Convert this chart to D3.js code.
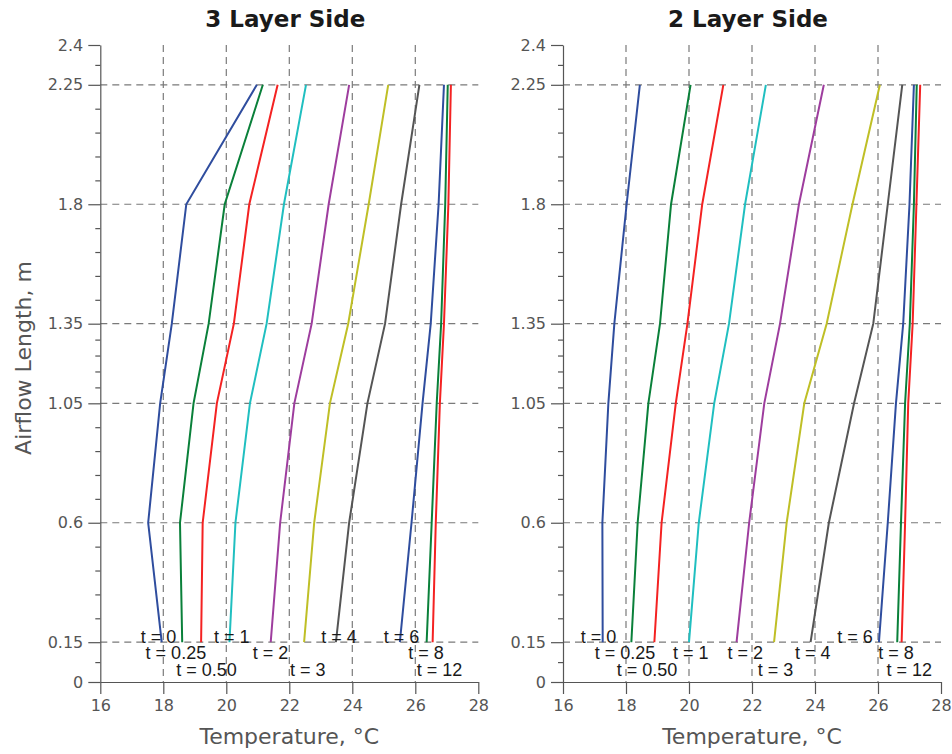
<!DOCTYPE html>
<html>
<head>
<meta charset="UTF-8">
<title>Airflow temperature profiles</title>
<script src="https://cdn.jsdelivr.net/npm/d3@7"></script>
<style>
body { margin: 0; background: #fff; }
svg { display: block; }
</style>
</head>
<body>
<script>
// airflow positions (m) where temperatures were taken
var levels = [0.15, 0.6, 1.05, 1.35, 1.8, 2.25];
var timeLabels = ["t = 0", "t = 0.25", "t = 0.50", "t = 1", "t = 2", "t = 3", "t = 4", "t = 6", "t = 8", "t = 12"];
var colors = ["#2f4d9e", "#0a803a", "#f42222", "#20bfc0", "#9e3d9e", "#bfbf26", "#555555", "#2f4d9e", "#0a803a", "#f42222"];

// temperature (°C) at each level, one row per time
var temps3Layer = [
  [17.95, 17.52, 17.90, 18.27, 18.73, 20.97],
  [18.60, 18.53, 18.96, 19.44, 19.95, 21.16],
  [19.20, 19.25, 19.70, 20.24, 20.73, 21.63],
  [20.10, 20.29, 20.75, 21.28, 21.83, 22.53],
  [21.41, 21.71, 22.16, 22.71, 23.25, 23.90],
  [22.47, 22.79, 23.29, 23.87, 24.52, 25.14],
  [23.48, 23.90, 24.48, 25.04, 25.55, 26.13],
  [25.51, 25.88, 26.23, 26.49, 26.74, 26.91],
  [26.36, 26.52, 26.68, 26.82, 26.95, 27.03],
  [26.55, 26.65, 26.78, 26.91, 27.05, 27.13]
];
var temps2Layer = [
  [17.26, 17.25, 17.44, 17.63, 18.02, 18.44],
  [18.17, 18.37, 18.71, 19.08, 19.43, 20.05],
  [18.90, 19.13, 19.58, 19.95, 20.42, 21.09],
  [20.00, 20.31, 20.80, 21.27, 21.78, 22.44],
  [21.51, 21.91, 22.39, 22.89, 23.49, 24.28],
  [22.70, 23.10, 23.66, 24.37, 25.19, 26.06],
  [23.86, 24.44, 25.24, 25.85, 26.31, 26.77],
  [26.03, 26.31, 26.57, 26.80, 27.00, 27.14],
  [26.61, 26.73, 26.86, 27.01, 27.14, 27.23],
  [26.75, 26.86, 26.96, 27.10, 27.22, 27.34]
];

// where the "t = ..." tags sit (°C) and which text row
var labelX3Layer = [17.85, 18.40, 19.37, 20.17, 21.40, 22.59, 23.58, 25.56, 26.34, 26.77];
var labelRow3Layer = [0, 1, 2, 0, 1, 2, 0, 0, 1, 2];
var labelX2Layer = [17.13, 17.97, 18.67, 20.06, 21.79, 22.75, 23.93, 25.27, 26.57, 26.99];
var labelRow2Layer = [0, 1, 2, 1, 1, 2, 1, 0, 1, 2];

var xTicks = [16, 18, 20, 22, 24, 26, 28];
var yTicks = [0, 0.15, 0.6, 1.05, 1.35, 1.8, 2.25, 2.4];

var axisFont = "DejaVu Sans";
var tagFont = "Liberation Sans, Arial, sans-serif";
var rowOffset = [1, 17, 34];

var svg = d3.select("body").append("svg")
  .attr("width", 952)
  .attr("height", 754)
  .style("background", "white");

var y = d3.scaleLinear().domain([0, 2.4]).range([682, 45]);

// minor ticks split each major interval
var minorTicks = [];
d3.pairs(yTicks).forEach(function(p) {
  var n = (p[1] - p[0]) < 0.2 ? 2 : 5;
  for (var k = 1; k < n; k++) minorTicks.push(p[0] + (p[1] - p[0]) * k / n);
});

function panel(x0, x1, title, temps, labelX, labelRow, yLabel) {
  var x = d3.scaleLinear().domain([16, 28]).range([x0, x1]);
  var g = svg.append("g");

  // dashed grid
  g.append("g").selectAll("line")
    .data(xTicks.slice(1, -1)).join("line")
    .attr("x1", function(d) { return x(d); })
    .attr("x2", function(d) { return x(d); })
    .attr("y1", y(2.4)).attr("y2", y(0))
    .attr("stroke", "#7a7a7a").attr("stroke-width", 1.2)
    .attr("stroke-dasharray", "7,5");
  g.append("g").selectAll("line")
    .data(yTicks.slice(1, -1)).join("line")
    .attr("x1", x0).attr("x2", x1)
    .attr("y1", function(d) { return y(d); })
    .attr("y2", function(d) { return y(d); })
    .attr("stroke", "#7a7a7a").attr("stroke-width", 1.2)
    .attr("stroke-dasharray", "7,5");

  // profiles
  var line = d3.line()
    .x(function(d) { return x(d[0]); })
    .y(function(d) { return y(d[1]); });
  g.append("g").selectAll("path")
    .data(temps).join("path")
    .attr("d", function(d) { return line(d.map(function(v, i) { return [v, levels[i]]; })); })
    .attr("fill", "none")
    .attr("stroke", function(d, i) { return colors[i]; })
    .attr("stroke-width", 2);

  // t = ... tags
  g.append("g").selectAll("text")
    .data(timeLabels).join("text")
    .attr("x", function(d, i) { return x(labelX[i]); })
    .attr("y", function(d, i) { return y(0.15) + rowOffset[labelRow[i]]; })
    .attr("text-anchor", "middle")
    .attr("font-family", tagFont)
    .attr("font-size", 18)
    .attr("fill", "#1a1a1a")
    .text(function(d) { return d; });

  // axes
  var ax = g.append("g")
    .attr("transform", "translate(0," + y(0) + ")")
    .call(d3.axisBottom(x).tickValues(xTicks).tickSize(12).tickSizeOuter(0).tickPadding(6).tickFormat(d3.format("d")));
  var ay = g.append("g")
    .attr("transform", "translate(" + x0 + ",0)")
    .call(d3.axisLeft(y).tickValues(yTicks).tickSize(12).tickSizeOuter(0).tickPadding(5).tickFormat(function(d) { return String(d); }));
  g.append("g")
    .attr("transform", "translate(" + x0 + ",0)")
    .call(d3.axisLeft(y).tickValues(minorTicks).tickSize(5).tickSizeOuter(0).tickFormat(""))
    .select(".domain").remove();

  g.selectAll(".domain, .tick line").attr("stroke", "#555").attr("stroke-width", 1.2);
  [ax, ay].forEach(function(a) {
    a.selectAll("text")
      .attr("font-family", axisFont)
      .attr("font-size", 16)
      .attr("fill", "#555");
  });

  g.append("text")
    .attr("x", (x0 + x1) / 2 - 4)
    .attr("y", 27)
    .attr("text-anchor", "middle")
    .attr("font-family", axisFont)
    .attr("font-weight", "bold")
    .attr("font-size", 23)
    .attr("fill", "#1a1a1a")
    .text(title);

  g.append("text")
    .attr("x", (x0 + x1) / 2)
    .attr("y", 744)
    .attr("text-anchor", "middle")
    .attr("font-family", axisFont)
    .attr("font-size", 22)
    .attr("fill", "#555")
    .text("Temperature, °C");

  if (yLabel) {
    g.append("text")
      .attr("transform", "translate(31,358) rotate(-90)")
      .attr("text-anchor", "middle")
      .attr("font-family", axisFont)
      .attr("font-size", 22)
      .attr("fill", "#555")
      .text(yLabel);
  }
}

panel(100.3, 478.3, "3 Layer Side", temps3Layer, labelX3Layer, labelRow3Layer, "Airflow Length, m");
panel(563, 941, "2 Layer Side", temps2Layer, labelX2Layer, labelRow2Layer, null);
</script>
</body>
</html>
